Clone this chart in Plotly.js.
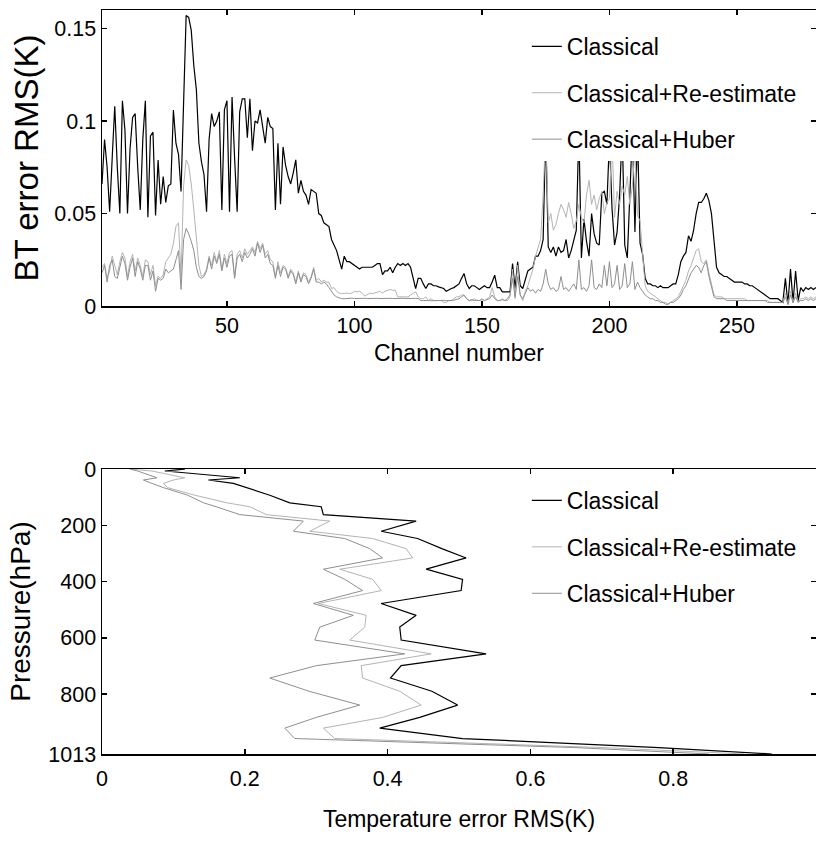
<!DOCTYPE html>
<html>
<head>
<meta charset="utf-8">
<script src="https://cdn.plot.ly/plotly-3.0.1.min.js"></script>
<style>html,body{margin:0;padding:0;background:#fff;}#chart{width:816px;height:842px;}</style>
</head>
<body>
<div id="chart"></div>
<script>
// ---------- Top panel: BT error RMS per channel ----------
const seriesNames = ['Classical', 'Classical+Re-estimate', 'Classical+Huber'];

const btClassical = [
0.066,0.090,0.075,0.051,0.080,0.108,0.075,0.050,0.111,0.095,
0.050,0.085,0.102,0.104,0.075,0.052,0.090,0.111,0.048,0.092,
0.094,0.049,0.079,0.055,0.070,0.056,0.065,0.066,0.106,0.088,
0.082,0.062,0.110,0.157,0.156,0.149,0.130,0.117,0.088,0.078,
0.071,0.051,0.090,0.104,0.097,0.100,0.105,0.052,0.106,0.111,
0.051,0.113,0.080,0.051,0.105,0.112,0.112,0.091,0.112,0.084,
0.100,0.099,0.106,0.096,0.088,0.102,0.097,0.096,0.052,0.088,
0.055,0.086,0.076,0.070,0.066,0.072,0.079,0.061,0.068,0.062,
0.060,0.055,0.063,0.062,0.061,0.050,0.049,0.045,0.044,0.043,
0.036,0.033,0.030,0.025,0.020,0.027,0.024,0.024,0.023,0.022,
0.021,0.020,0.021,0.021,0.021,0.021,0.021,0.022,0.023,0.023,
0.017,0.019,0.019,0.021,0.018,0.021,0.023,0.022,0.023,0.022,
0.023,0.021,0.016,0.0095,0.015,0.015,0.012,0.0095,0.012,0.012,
0.011,0.011,0.0104,0.010,0.0095,0.008,0.009,0.0095,0.010,0.011,
0.012,0.015,0.0176,0.012,0.0095,0.011,0.011,0.010,0.009,0.010,
0.011,0.010,0.010,0.013,0.0167,0.010,0.010,0.0077,0.0077,0.0077,
0.0077,0.023,0.0095,0.024,0.011,0.0095,0.015,0.019,0.020,0.021,
0.027,0.027,0.030,0.036,0.095,0.032,0.029,0.032,0.027,0.032,
0.029,0.030,0.036,0.026,0.030,0.035,0.041,0.095,0.026,0.047,
0.035,0.027,0.050,0.039,0.034,0.033,0.061,0.062,0.055,0.090,
0.053,0.033,0.040,0.060,0.095,0.033,0.026,0.060,0.095,0.040,
0.095,0.034,0.028,0.015,0.012,0.012,0.011,0.011,0.010,0.011,
0.010,0.010,0.010,0.011,0.012,0.012,0.017,0.024,0.027,0.029,
0.038,0.035,0.041,0.050,0.056,0.056,0.058,0.061,0.057,0.050,
0.036,0.021,0.018,0.017,0.016,0.016,0.015,0.014,0.013,0.013,
0.013,0.013,0.012,0.012,0.011,0.011,0.010,0.009,0.008,0.007,
0.006,0.005,0.004,0.004,0.004,0.004,0.003,0.002,0.015,0.001,
0.020,0.002,0.019,0.003,0.010,0.008,0.010,0.009,0.010,0.009,0.010
];

const btReestimate = [
0.021,0.023,0.015,0.019,0.027,0.022,0.017,0.024,0.029,0.026,
0.016,0.024,0.028,0.019,0.026,0.022,0.016,0.025,0.024,0.017,
0.022,0.011,0.016,0.015,0.017,0.024,0.026,0.028,0.034,0.043,
0.045,0.016,0.065,0.079,0.076,0.066,0.052,0.035,0.022,0.016,
0.017,0.020,0.027,0.022,0.029,0.024,0.030,0.020,0.028,0.023,
0.029,0.030,0.016,0.028,0.030,0.026,0.031,0.028,0.030,0.032,
0.029,0.035,0.031,0.034,0.028,0.030,0.025,0.024,0.016,0.024,
0.018,0.022,0.021,0.016,0.020,0.018,0.013,0.019,0.014,0.018,
0.017,0.013,0.016,0.021,0.014,0.015,0.013,0.014,0.013,0.013,
0.0095,0.010,0.008,0.007,0.0068,0.007,0.007,0.0068,0.007,0.008,
0.0077,0.008,0.007,0.0054,0.006,0.007,0.0068,0.007,0.0075,0.008,
0.007,0.008,0.0085,0.009,0.0086,0.0086,0.005,0.005,0.005,0.005,
0.005,0.006,0.007,0.0077,0.005,0.004,0.004,0.005,0.003,0.004,
0.003,0.003,0.003,0.003,0.002,0.002,0.003,0.003,0.004,0.005,
0.005,0.006,0.006,0.004,0.003,0.003,0.004,0.003,0.003,0.004,
0.003,0.004,0.005,0.010,0.005,0.003,0.003,0.004,0.003,0.003,
0.005,0.020,0.004,0.022,0.006,0.003,0.008,0.011,0.016,0.020,
0.027,0.031,0.036,0.060,0.095,0.045,0.050,0.041,0.044,0.050,
0.055,0.052,0.048,0.056,0.050,0.042,0.046,0.055,0.048,0.045,
0.060,0.068,0.055,0.060,0.052,0.058,0.062,0.050,0.056,0.058,
0.090,0.048,0.062,0.055,0.065,0.060,0.070,0.055,0.065,0.085,
0.049,0.046,0.030,0.011,0.008,0.007,0.006,0.005,0.004,0.003,
0.002,0.002,0.001,0.002,0.003,0.004,0.005,0.008,0.011,0.014,
0.019,0.022,0.026,0.030,0.031,0.024,0.023,0.025,0.018,0.012,
0.006,0.005,0.005,0.005,0.004,0.004,0.004,0.004,0.004,0.004,
0.004,0.004,0.004,0.003,0.003,0.003,0.003,0.003,0.003,0.003,
0.003,0.003,0.002,0.002,0.002,0.002,0.002,0.002,0.007,0.001,
0.008,0.002,0.007,0.002,0.004,0.004,0.005,0.004,0.005,0.004,0.005
];

const btHuber = [
0.018,0.022,0.013,0.022,0.025,0.016,0.015,0.022,0.027,0.023,
0.014,0.021,0.026,0.016,0.024,0.020,0.014,0.022,0.022,0.014,
0.019,0.008,0.015,0.014,0.015,0.020,0.018,0.019,0.020,0.025,
0.030,0.009,0.036,0.042,0.039,0.035,0.030,0.021,0.016,0.015,
0.016,0.019,0.026,0.020,0.027,0.023,0.028,0.019,0.026,0.021,
0.027,0.028,0.015,0.026,0.028,0.024,0.029,0.026,0.028,0.031,
0.027,0.034,0.029,0.033,0.026,0.028,0.023,0.022,0.015,0.022,
0.016,0.021,0.020,0.015,0.019,0.017,0.012,0.018,0.013,0.017,
0.016,0.012,0.015,0.020,0.013,0.013,0.012,0.013,0.012,0.010,
0.008,0.006,0.005,0.0045,0.004,0.004,0.0042,0.0041,0.0043,0.0041,
0.0042,0.0041,0.0043,0.0042,0.0041,0.0042,0.0043,0.0041,0.0042,0.0041,
0.0042,0.0043,0.0041,0.0042,0.0041,0.0042,0.0043,0.0041,0.0042,0.0041,
0.0042,0.0043,0.0041,0.0042,0.0041,0.003,0.003,0.0028,0.003,0.0029,
0.003,0.0028,0.0029,0.003,0.0031,0.003,0.0029,0.003,0.0032,0.0035,
0.004,0.005,0.0059,0.004,0.003,0.0035,0.003,0.0032,0.003,0.0035,
0.003,0.0035,0.004,0.006,0.004,0.003,0.003,0.0035,0.003,0.004,
0.006,0.015,0.005,0.016,0.006,0.004,0.007,0.010,0.008,0.009,
0.007,0.009,0.008,0.012,0.020,0.012,0.009,0.010,0.008,0.009,
0.016,0.009,0.010,0.008,0.010,0.012,0.009,0.025,0.009,0.010,
0.008,0.011,0.025,0.010,0.009,0.012,0.010,0.022,0.011,0.024,
0.010,0.012,0.022,0.009,0.011,0.023,0.010,0.012,0.024,0.009,
0.013,0.010,0.008,0.006,0.005,0.004,0.004,0.003,0.003,0.002,
0.002,0.001,0.001,0.002,0.002,0.003,0.004,0.006,0.009,0.011,
0.015,0.018,0.020,0.022,0.021,0.018,0.022,0.024,0.016,0.010,
0.005,0.004,0.004,0.004,0.004,0.003,0.003,0.003,0.003,0.003,
0.003,0.003,0.003,0.003,0.003,0.003,0.003,0.003,0.003,0.003,
0.003,0.002,0.002,0.002,0.002,0.002,0.002,0.002,0.005,0.001,
0.006,0.002,0.005,0.002,0.003,0.003,0.004,0.003,0.004,0.003,0.004
];

// channel numbers 1..N (index of the arrays above)
const channels = btClassical.map((_, i) => i + 1);

// ---------- Bottom panel: temperature error RMS profile ----------
const pressureLevels = [0,7,31,39,51,66,93,120,134,162,185,221,247,283,316,356,392,432,478,520,562,608,657,699,743,790,839,883,921,958,990,1013];
const tClassical  = [0.116,0.088,0.193,0.149,0.184,0.203,0.235,0.263,0.307,0.310,0.440,0.391,0.442,0.476,0.510,0.454,0.505,0.503,0.391,0.440,0.417,0.419,0.538,0.419,0.404,0.462,0.498,0.445,0.389,0.505,0.780,0.938];
const tReestimate = [0.039,0.070,0.116,0.100,0.086,0.092,0.130,0.175,0.207,0.230,0.319,0.291,0.379,0.426,0.435,0.333,0.379,0.391,0.303,0.370,0.368,0.347,0.461,0.363,0.365,0.417,0.447,0.393,0.310,0.326,0.700,0.900];
const tHuber      = [0.039,0.050,0.077,0.058,0.070,0.086,0.120,0.142,0.160,0.193,0.282,0.268,0.340,0.375,0.393,0.310,0.340,0.365,0.296,0.352,0.305,0.298,0.424,0.300,0.235,0.290,0.361,0.300,0.256,0.270,0.660,0.850];

// tick labels
const topXTicks = [50,100,150,200,250];
const topYTicks = [0,0.05,0.1,0.15];
const topYTickText = ['0','0.05','0.1','0.15'];
const botXTicks = [0,0.2,0.4,0.6,0.8,1];
const botXTickText = ['0','0.2','0.4','0.6','0.8','1'];
const botYTicks = [0,200,400,600,800,1013];
const botYTickText = ['0','200','400','600','800','1013'];

// ---------- styling ----------
const colors = ['#000000', '#b4b4b4', '#8f8f8f'];
const widths = [1.2, 1, 1];
const FONT = '"Liberation Sans", Arial, sans-serif';

const topY = [btClassical, btReestimate, btHuber];
const botX = [tClassical, tReestimate, tHuber];

const traces = [];
for (let i = 0; i < 3; i++) {
  traces.push({
    x: channels, y: topY[i], type: 'scatter', mode: 'lines',
    name: seriesNames[i], legendgroup: 'a' + i, legend: 'legend',
    line: {color: colors[i], width: widths[i]},
    xaxis: 'x', yaxis: 'y', hoverinfo: 'skip'
  });
}
for (let i = 0; i < 3; i++) {
  traces.push({
    x: botX[i], y: pressureLevels, type: 'scatter', mode: 'lines',
    name: seriesNames[i], legendgroup: 'b' + i, legend: 'legend2',
    line: {color: colors[i], width: widths[i]},
    xaxis: 'x2', yaxis: 'y2', hoverinfo: 'skip'
  });
}

const axisCommon = {
  ticks: 'inside', ticklen: 5, tickwidth: 1.5, tickcolor: '#000',
  showline: true, mirror: 'ticks', linecolor: '#000', linewidth: 1.5,
  showgrid: false, zeroline: false, automargin: false,
  tickfont: {family: FONT, size: 21.5, color: '#000'}
};

const legendCommon = {
  xanchor: 'left', yanchor: 'top', bgcolor: 'rgba(255,255,255,1)', borderwidth: 0,
  font: {family: FONT, size: 23, color: '#000'}, tracegroupgap: 13.5,
  traceorder: 'grouped'
};

const layout = {
  width: 816, height: 842,
  margin: {l: 102, r: 0, t: 10, b: 88, pad: 0},
  paper_bgcolor: '#fff', plot_bgcolor: '#fff',
  showlegend: true,
  xaxis: Object.assign({}, axisCommon, {
    domain: [0, 1], anchor: 'y', range: [1, 281], tickvals: topXTicks,
    title: {text: 'Channel number', font: {family: FONT, size: 23, color: '#000'}, standoff: 7}
  }),
  yaxis: Object.assign({}, axisCommon, {
    domain: [0.602, 1], anchor: 'x', range: [0, 0.16], tickvals: topYTicks, ticktext: topYTickText,
    title: {text: 'BT error RMS(K)', font: {family: FONT, size: 33, color: '#000'}, standoff: 6}
  }),
  xaxis2: Object.assign({}, axisCommon, {
    domain: [0, 1], anchor: 'y2', range: [0, 1], tickvals: botXTicks, ticktext: botXTickText,
    ticklabelstandoff: 5,
    title: {text: 'Temperature error RMS(K)', font: {family: FONT, size: 23, color: '#000'}, standoff: 20}
  }),
  yaxis2: Object.assign({}, axisCommon, {
    domain: [0, 0.383], anchor: 'x2', range: [1013, 0], tickvals: botYTicks, ticktext: botYTickText,
    title: {text: 'Pressure(hPa)', font: {family: FONT, size: 28, color: '#000'}, standoff: 9}
  }),
  legend: Object.assign({}, legendCommon, {x: 0.595, y: 0.980}),
  legend2: Object.assign({}, legendCommon, {x: 0.595, y: 0.3696})
};

Plotly.newPlot('chart', traces, layout, {displayModeBar: false, staticPlot: true});
</script>
</body>
</html>
